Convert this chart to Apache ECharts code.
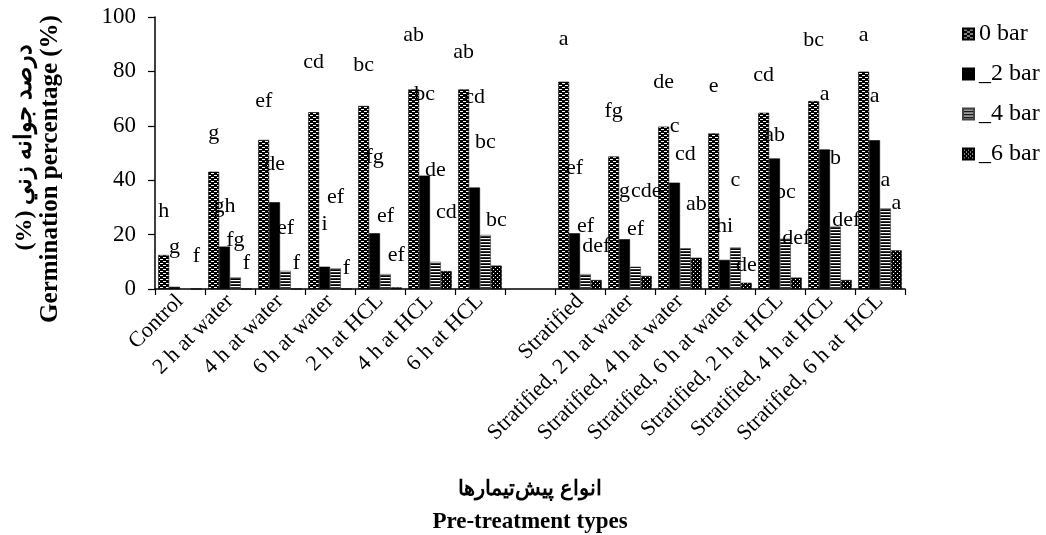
<!DOCTYPE html>
<html><head><meta charset="utf-8">
<script src="https://cdn.jsdelivr.net/npm/echarts@6/dist/echarts.min.js"></script>
<style>html,body{margin:0;padding:0;background:#fff}#c{width:1046px;height:535px}</style>
</head><body><div id="c"></div>
<script>
// ---- data ----
const categories = ['Control','2 h at water','4 h at water','6 h at water','2 h at HCL','4 h at HCL','6 h at HCL','',
  'Stratified','Stratified, 2 h at water','Stratified, 4 h at water','Stratified, 6 h at water',
  'Stratified, 2 h at HCL','Stratified, 4 h at HCL','Stratified, 6 h at  HCL'];
const seriesNames = ['0 bar','_2 bar','_4 bar','_6 bar'];
const bar0 = [12.5, 43.1, 54.8, 65.0, 67.3, 73.4, 73.4, null, 76.2, 48.7, 59.7, 57.2, 64.8, 69.1, 79.9];
const bar2 = [0.8, 15.6, 31.9, 8.2, 20.5, 41.7, 37.3, null, 20.5, 18.3, 39.1, 10.7, 48.0, 51.3, 54.7];
const bar4 = [0, 4.3, 6.7, 7.6, 5.5, 10.0, 19.9, null, 5.5, 8.2, 15.0, 15.3, 18.5, 23.0, 29.7];
const bar6 = [0, 0, 0, 0, 0.6, 6.6, 8.6, null, 3.3, 4.8, 11.5, 2.3, 4.2, 3.3, 14.2];
// significance letters and the height (in %) at which each letter sits
const letters0 = ['h','g','ef','cd','bc','ab','ab','','a','fg','de','e','cd','bc','a'];
const letters2 = ['g','gh','de','i','fg','bc','cd','','ef','g','c','hi','ab','a','a'];
const letters4 = ['','fg','ef','ef','ef','de','bc','','ef','ef','cd','c','bc','b','a'];
const letters6 = ['f','f','f','f','ef','cd','bc','','def','cde','ab','de','def','def','a'];
const letterY0 = [28.5, 57.2, 69, 83.4, 82.2, 93.2, 87, null, 91.8, 65.4, 76.2, 74.6, 78.7, 91.3, 93.4];
const letterY2 = [15.5, 30.3, 45.8, 23.8, 48.6, 71.5, 70.5, null, 44.4, 35.8, 60, 23, 56.6, 71.6, 70.7];
const letterY4 = [null, 17.8, 22.3, 33.6, 26.8, 43.5, 54, null, 23, 22, 49.6, 40, 35.5, 48, 40.1];
const letterY6 = [12, 9.5, 9.5, 7.5, 12.3, 28.4, 25.3, null, 15.6, 35.8, 31.2, 8.8, 18.7, 25.4, 31.5];
const yMin = 0, yMax = 100, yInterval = 20;
const yTitleFa = '(%) درصد جوانه زني', yTitleEn = 'Germination percentage (%)';
const xTitleFa = 'انواع پیش‌تیمارها', xTitleEn = 'Pre-treatment types';

// ---- patterns ----
function pattern(w, h, draw) {
  const c = document.createElement('canvas'); c.width = w; c.height = h;
  const g = c.getContext('2d'); draw(g); return { image: c, repeat: 'repeat' };
}
const pat0 = pattern(6, 4, g => { g.fillStyle = '#000'; g.fillRect(0,0,6,4); g.fillStyle = '#fff';
  g.fillRect(1,1,3,1); g.fillRect(4,3,2,1); g.fillRect(0,3,1,1); });
const pat2 = '#000';
const pat4 = pattern(4, 3, g => { g.fillStyle = '#fff'; g.fillRect(0,0,4,3); g.fillStyle = '#000';
  g.fillRect(0,0,4,1); g.fillStyle = '#333'; g.fillRect(0,2,4,1); });
const pat6 = pattern(4, 4, g => { g.fillStyle = '#000'; g.fillRect(0,0,4,4); g.fillStyle = '#fff';
  g.fillRect(1,1,1,1); g.fillRect(3,3,1,1); });
const fills = [pat0, pat2, pat4, pat6];
const borders = ['#000', '#000', '#444', '#000'];

const values = [bar0, bar2, bar4, bar6];
const letters = [letters0, letters2, letters4, letters6];
const letterYs = [letterY0, letterY2, letterY4, letterY6];
const catGap = 0.13;
const labelData = [], labelText = [];
for (let k = 0; k < 4; k++) for (let i = 0; i < categories.length; i++) {
  if (letters[k][i]) { labelData.push([i, letterYs[k][i], k]); labelText.push(letters[k][i]); }
}
const serif = '"Liberation Serif", "Times New Roman", serif';
const chart = echarts.init(document.getElementById('c'));
const barSeries = seriesNames.map((n, k) => ({
  name: n, type: 'bar', data: values[k], barGap: '0%', barCategoryGap: (catGap*100) + '%',
  itemStyle: { color: fills[k], borderColor: borders[k], borderWidth: 0.6 },
  emphasis: { disabled: true }
}));
chart.setOption({
  animation: false,
  grid: { left: 155, right: 141, top: 17, bottom: 246, containLabel: false, outerBoundsMode: 'none' },
  legend: {
    data: seriesNames, orient: 'vertical', left: 957, top: 17, itemWidth: 11, itemHeight: 11,
    itemGap: 16, icon: 'rect', textStyle: { fontFamily: serif, fontSize: 24, color: '#000' }
  },
  xAxis: {
    type: 'category', data: categories,
    axisLine: { lineStyle: { color: '#000', width: 1.5 } },
    axisTick: { show: true, interval: 0, length: 6, lineStyle: { color: '#000', width: 1.2 } },
    axisLabel: { interval: 0, rotate: 45, fontFamily: serif, fontSize: 22, color: '#000', margin: 9 },
    name: '{fa|' + xTitleFa + '}\n{en|' + xTitleEn + '}', nameLocation: 'middle', nameGap: 185,
    nameTextStyle: { color: '#000', rich: {
      fa: { fontFamily: serif, fontSize: 21, fontWeight: 'bold', color: '#000', lineHeight: 32 },
      en: { fontFamily: serif, fontSize: 23, fontWeight: 'bold', color: '#000', lineHeight: 32 } } }
  },
  yAxis: {
    type: 'value', min: yMin, max: yMax, interval: yInterval,
    splitLine: { show: false },
    axisLine: { show: true, lineStyle: { color: '#000', width: 1.5 } },
    axisTick: { show: true, length: 7, lineStyle: { color: '#000', width: 1.2 } },
    axisLabel: { fontFamily: serif, fontSize: 23, color: '#000', margin: 19 },
    name: '{fa|' + yTitleFa + '}\n{en|' + yTitleEn + '}', nameLocation: 'middle', nameGap: 92, nameRotate: 90,
    nameTextStyle: { color: '#000', rich: {
      fa: { fontFamily: serif, fontSize: 24, fontWeight: 'bold', color: '#000', lineHeight: 28, padding: [0, 0, 0, 12] },
      en: { fontFamily: serif, fontSize: 25, fontWeight: 'bold', color: '#000', lineHeight: 24, padding: [0, 32, 0, 0] } } }
  },
  series: barSeries.concat([{
    type: 'custom', silent: true, z: 5, data: labelData, encode: { x: 0, y: 1 },
    renderItem: (params, api) => {
      const p = api.coord([api.value(0), api.value(1)]);
      const band = api.size([1, 0])[0];
      const bw = band * (1 - catGap) / 4;
      const k = api.value(2);
      return { type: 'text', x: p[0] + (k - 1.5) * bw, y: p[1],
        style: { text: labelText[params.dataIndex], fill: '#000', fontFamily: serif, fontSize: 22,
          align: 'center', verticalAlign: 'middle' } };
    }
  }])
});
</script></body></html>
